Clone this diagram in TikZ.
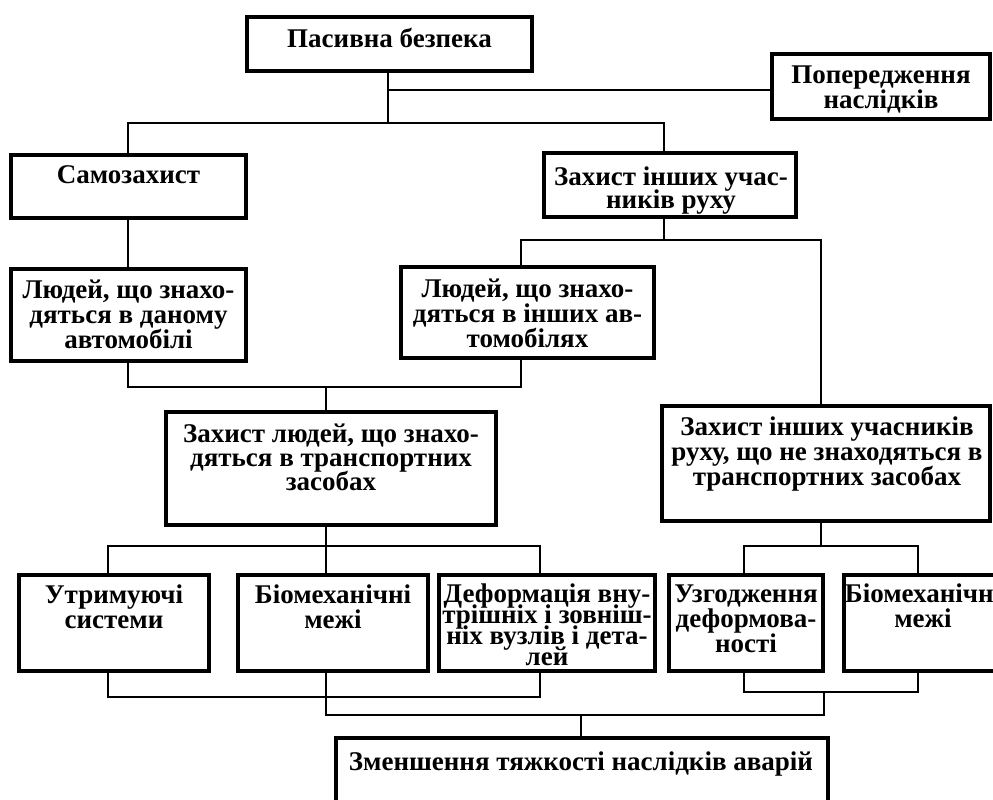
\documentclass[tikz,border=0pt]{standalone}
\usepackage{fontspec}
\setmainfont{Liberation Serif}
\newcommand\mlines[2][25pt]{\vtop{\baselineskip=#1\lineskiplimit=-100pt\lineskip=0pt\halign{\hfil##\hfil\cr#2\crcr}}}
\begin{document}
\begin{tikzpicture}[x=1pt,y=-1pt,
  box/.style={draw, line width=3.6pt, inner sep=0pt},
  conn/.style={line width=2pt},
  txt/.style={font=\fontsize{27}{25}\selectfont\bfseries, anchor=base, inner sep=0pt}]
\useasboundingbox (0,0) rectangle (993,800);
\clip (0,0) rectangle (993,800);
% boxes
\node[box, minimum width=285, minimum height=54] (pb) at (389.5,44) {};
\node[box, minimum width=218, minimum height=65] (pn) at (881,86.5) {};
\node[box, minimum width=235, minimum height=63] (sz) at (128.5,186.5) {};
\node[box, minimum width=252, minimum height=64] (zi) at (670,185) {};
\node[box, minimum width=235, minimum height=92] (l1) at (128.5,315) {};
\node[box, minimum width=253, minimum height=91] (l2) at (527.5,312.5) {};
\node[box, minimum width=330, minimum height=113] (zl) at (331,468.5) {};
\node[box, minimum width=328, minimum height=115] (zn) at (826,463.5) {};
\node[box, minimum width=190, minimum height=96] (ut) at (114,623) {};
\node[box, minimum width=190, minimum height=96] (bm) at (333,623) {};
\node[box, minimum width=216, minimum height=96] (df) at (547,623) {};
\node[box, minimum width=154, minimum height=96] (ug) at (746,623) {};
\node[box, minimum width=158, minimum height=96] (bm2) at (923,623) {};
\node[box, minimum width=492, minimum height=80] (zm) at (582,778) {};
% texts
\node[txt] (pbt) at (389.5,48) {\mlines{Пасивна безпека}};
\node[txt] (pnt) at (881,83) {\mlines{Попередження\cr наслідків}};
\node[txt] (szt) at (128.5,183) {\mlines{Самозахист}};
\node[txt] (zit) at (671,185) {\mlines[23.5pt]{Захист інших учас-\cr ників руху}};
\node[txt] (l1t) at (128.5,298) {\mlines{Людей, що знахо-\cr дяться в даному\cr автомобілі}};
\node[txt] (l2t) at (527.5,297) {\mlines{Людей, що знахо-\cr дяться в інших ав-\cr томобілях}};
\node[txt] (zlt) at (331,442) {\mlines[24pt]{Захист людей, що знахо-\cr дяться в транспортних\cr засобах}};
\node[txt] (znt) at (827,435) {\mlines{Захист інших учасників\cr руху, що не знаходяться в\cr транспортних засобах}};
\node[txt] (utt) at (114,603) {\mlines{Утримуючі\cr системи}};
\node[txt] (bmt) at (333,603) {\mlines{Біомеханічні\cr межі}};
\node[txt] (dft) at (547,602) {\mlines[21pt]{Деформація вну-\cr трішніх і зовніш-\cr ніх вузлів і дета-\cr лей}};
\node[txt] (ugt) at (746,602) {\mlines{Узгодження\cr деформова-\cr ності}};
\node[txt] (bm2t) at (923,602) {\mlines{Біомеханічні\cr межі}};
\node[txt] (zmt) at (581,770) {\mlines{Зменшення тяжкості наслідків аварій}};
% connectors
\coordinate (j0) at (388,90);
\coordinate (j1) at (388,123);
\draw[conn] (388,0 |- pb.south) -- (j1);
\draw[conn] (j0) -- (j0 -| pn.west);
\draw[conn] (128,0 |- sz.north) |- (j1) -| (664,0 |- zi.north);
\coordinate (j2) at (664,240);
\draw[conn] (664,0 |- zi.south) -- (j2);
\draw[conn] (521,0 |- l2.north) |- (j2) -| (821,0 |- zn.north);
\draw[conn] (128,0 |- sz.south) -- (128,0 |- l1.north);
\coordinate (j3) at (326,387);
\draw[conn] (128,0 |- l1.south) |- (j3) -| (521,0 |- l2.south);
\draw[conn] (j3) -- (326,0 |- zl.north);
\coordinate (j4) at (326,546);
\draw[conn] (326,0 |- zl.south) -- (j4);
\draw[conn] (108,0 |- ut.north) |- (j4) -| (540,0 |- df.north);
\draw[conn] (j4) -- (326,0 |- bm.north);
\coordinate (j5) at (821,546);
\draw[conn] (821,0 |- zn.south) -- (j5);
\draw[conn] (744,0 |- ug.north) |- (j5) -| (918,0 |- bm2.north);
\coordinate (j6) at (540,697);
\draw[conn] (108,0 |- ut.south) |- (j6) -- (540,0 |- df.south);
\coordinate (j7) at (918,692);
\draw[conn] (744,0 |- ug.south) |- (j7) -- (918,0 |- bm2.south);
\coordinate (j8) at (581,715);
\coordinate (j9) at (824,692);
\draw[conn] (326,0 |- bm.south) |- (j8) -| (j9);
\draw[conn] (j8) -- (581,0 |- zm.north);
\end{tikzpicture}
\end{document}
